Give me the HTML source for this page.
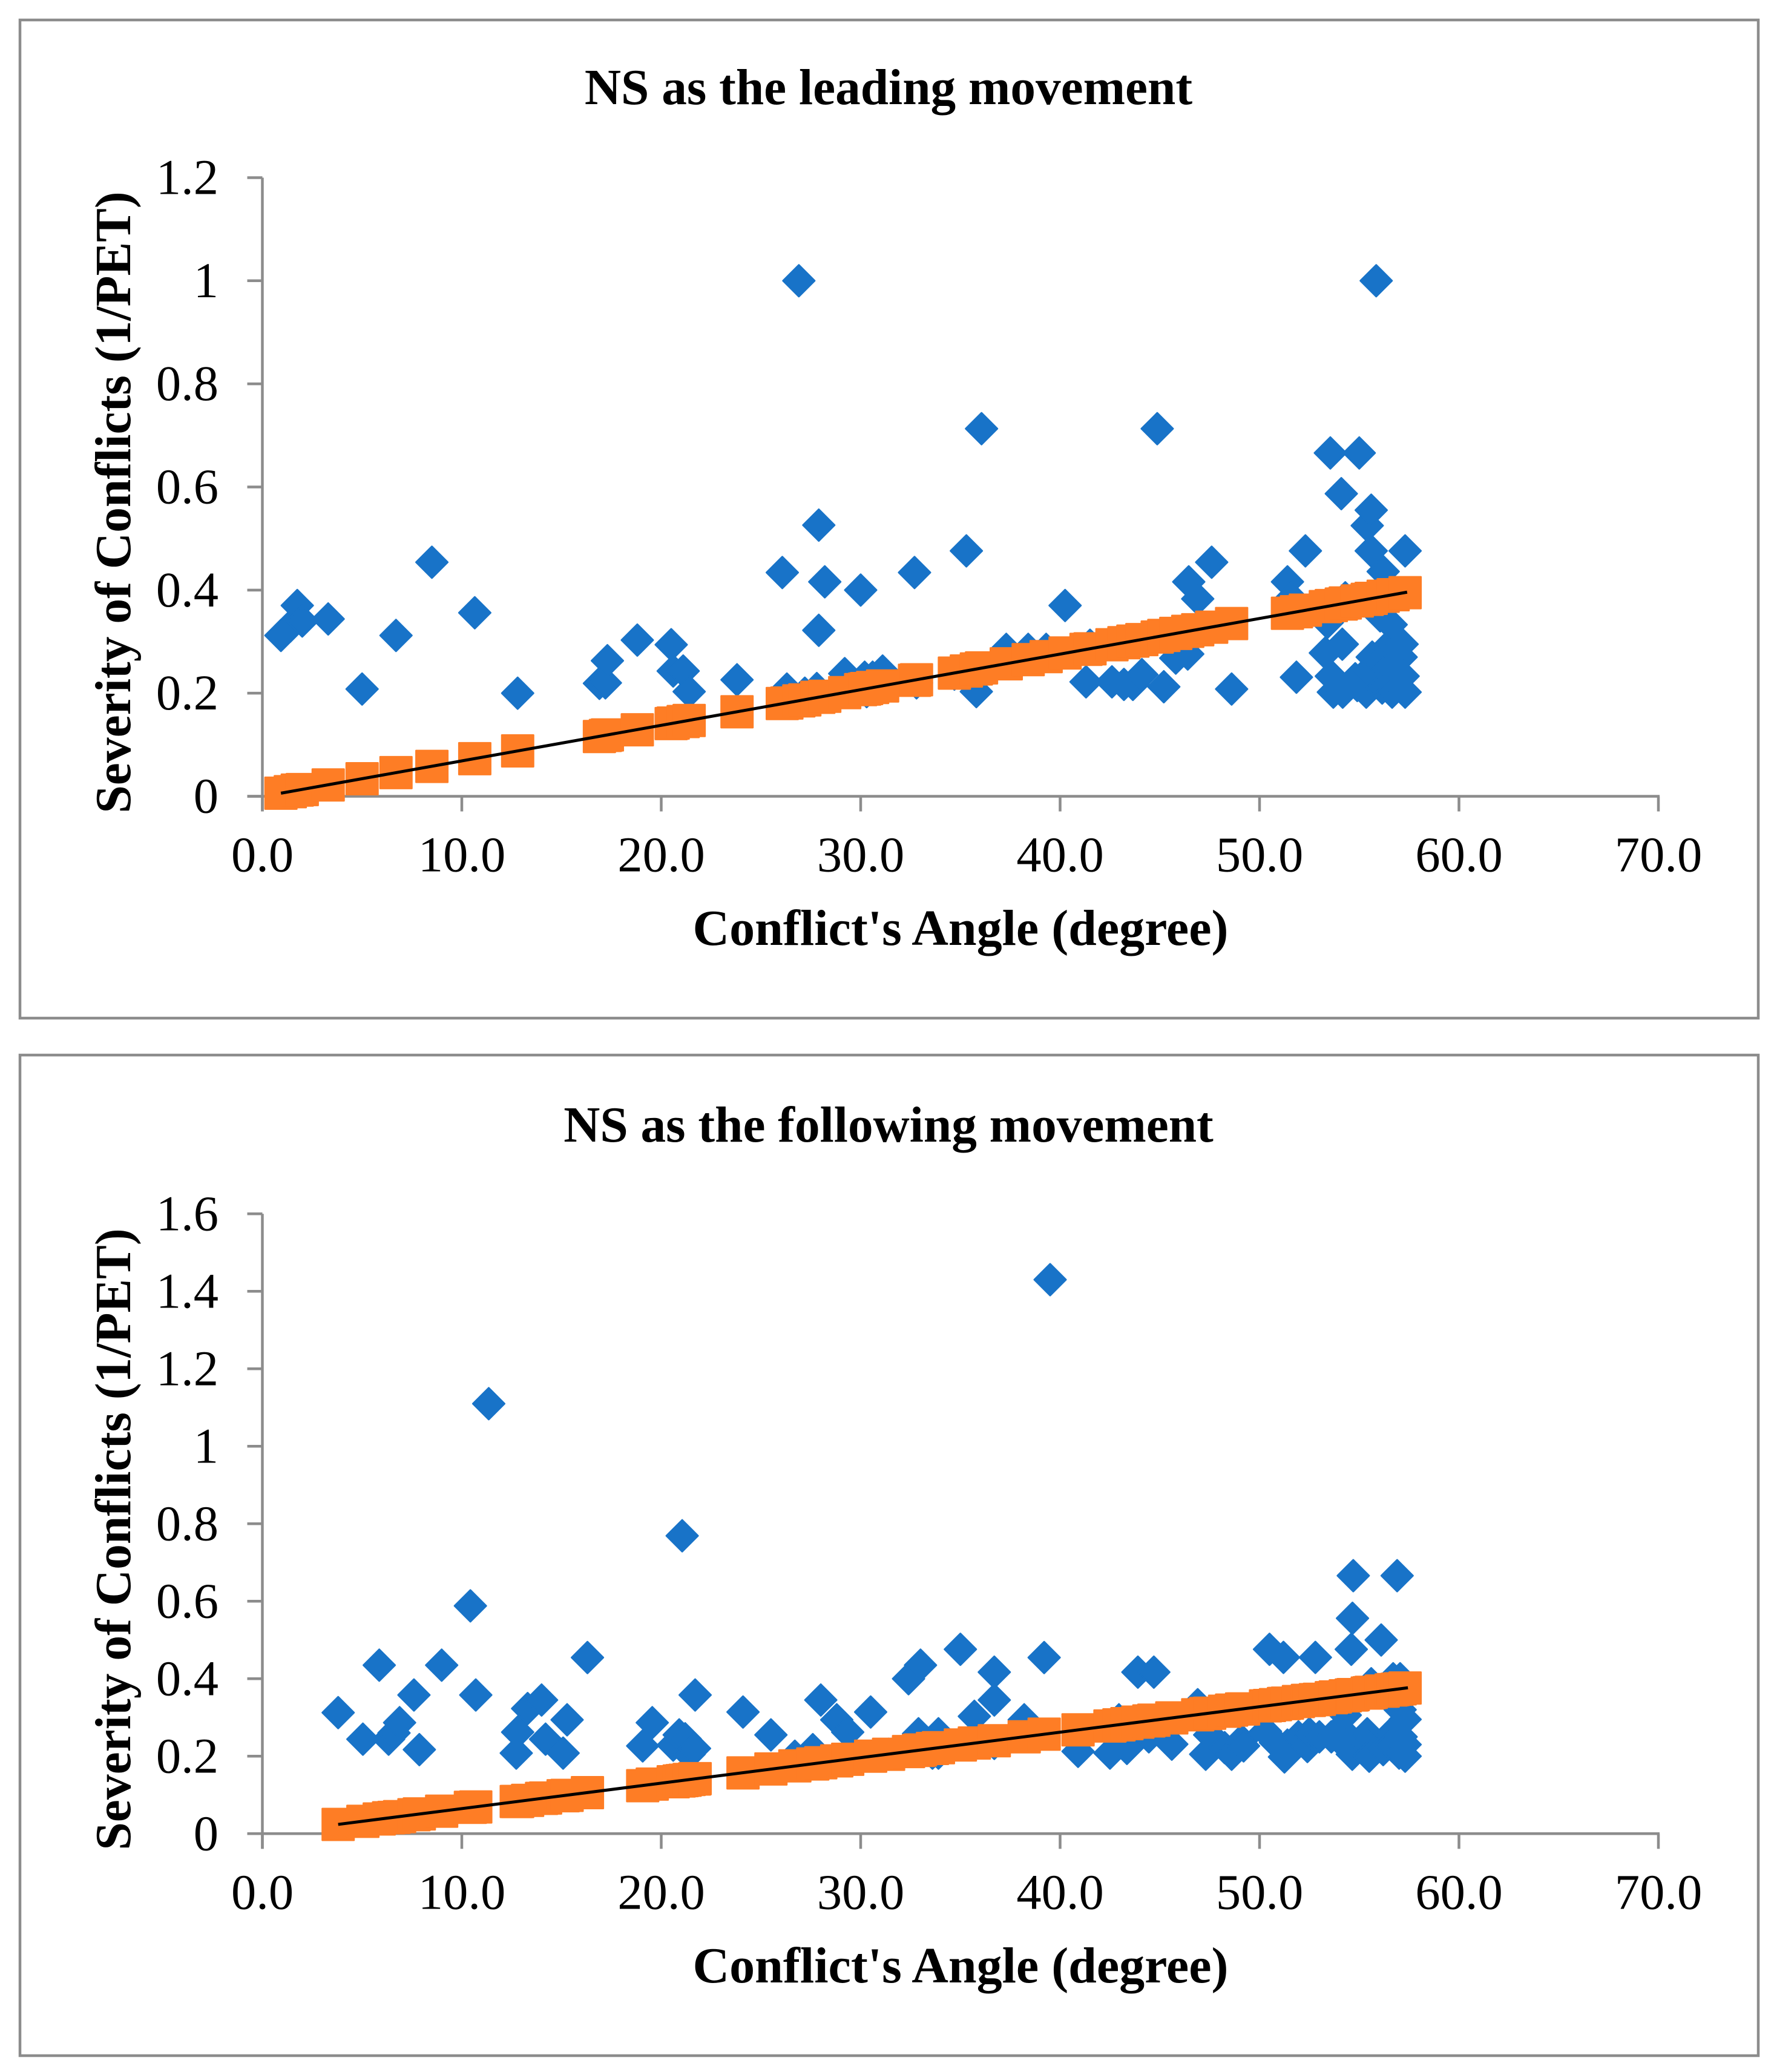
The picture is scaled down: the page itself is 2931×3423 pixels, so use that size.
<!DOCTYPE html>
<html lang="en">
<head>
<meta charset="utf-8">
<title>NS conflict severity charts</title>
<style>
html,body{margin:0;padding:0;background:#fff;}
svg{display:block;}
text{font-family:"Liberation Serif",serif;fill:#000;}
.tick{font-size:82.5px;}
.bold{font-size:84px;font-weight:bold;}
.title{font-size:83.3px;font-weight:bold;}
.ytitle{font-size:83.5px;font-weight:bold;}
</style>
</head>
<body>
<svg id="figure" xmlns="http://www.w3.org/2000/svg" width="2931" height="3423" viewBox="0 0 2931 3423">
  <g id="lead-panel">
    <rect x="33" y="33" width="2872" height="1649" fill="#fff" stroke="#8c8c8c" stroke-width="4.5"/>
    <text class="title" x="1468" y="172" text-anchor="middle">NS as the leading movement</text>
    <text class="bold" x="1587" y="1561" text-anchor="middle">Conflict's Angle (degree)</text>
    <text class="ytitle" transform="translate(215 830) rotate(-90)" text-anchor="middle">Severity of Conflicts (1/PET)</text>
  </g>
  <g id="follow-panel">
    <rect x="33" y="1743" width="2872" height="1653" fill="#fff" stroke="#8c8c8c" stroke-width="4.5"/>
    <text class="title" x="1468" y="1886" text-anchor="middle">NS as the following movement</text>
    <text class="bold" x="1587" y="3275" text-anchor="middle">Conflict's Angle (degree)</text>
    <text class="ytitle" transform="translate(215 2543) rotate(-90)" text-anchor="middle">Severity of Conflicts (1/PET)</text>
  </g>
</svg>
<script>
var xTickLabels = ["0.0","10.0","20.0","30.0","40.0","50.0","60.0","70.0"];
var leadYTickLabels = ["0","0.2","0.4","0.6","0.8","1","1.2"];
var followYTickLabels = ["0","0.2","0.4","0.6","0.8","1","1.2","1.4","1.6"];

var leadAngles = [0.93,1.4,1.75,2.0,3.3,5.0,6.7,8.5,10.65,12.8,16.9,17.2,17.3,18.8,20.5,20.6,21.1,21.4,23.8,26.07,26.3,26.9,27.2,27.8,27.9,27.9,28.2,29.2,30.0,30.2,30.3,30.6,31.1,32.7,32.8,34.7,35.3,35.8,36.06,37.3,38.4,39.3,40.25,41.3,41.5,42.6,43.2,43.65,44.1,44.87,45.2,45.8,46.4,46.45,46.9,47.6,48.6,51.4,51.6,51.85,52.3,53.3,53.55,53.6,53.7,53.4,54.1,54.17,54.15,54.3,54.8,54.9,55.0,55.35,55.4,55.5,55.6,55.6,55.65,55.85,56.0,56.15,56.2,56.05,56.5,56.55,56.6,56.65,57.1,57.15,57.2,57.3,57.3];
var leadSeverity = [0.312,0.33,0.37,0.34,0.344,0.208,0.312,0.454,0.356,0.2,0.219,0.22,0.263,0.303,0.294,0.243,0.243,0.203,0.226,0.434,0.208,1.0,0.2,0.209,0.526,0.322,0.416,0.238,0.4,0.231,0.203,0.231,0.243,0.434,0.22,0.237,0.476,0.203,0.713,0.285,0.285,0.285,0.37,0.222,0.293,0.222,0.217,0.217,0.236,0.713,0.2125,0.268,0.276,0.416,0.383,0.454,0.208,0.416,0.385,0.231,0.476,0.278,0.666,0.233,0.202,0.337,0.587,0.202,0.295,0.385,0.228,0.215,0.666,0.202,0.525,0.245,0.555,0.476,0.27,1.0,0.265,0.21,0.436,0.35,0.25,0.295,0.333,0.202,0.27,0.295,0.233,0.202,0.476];
var leadFitAngles = [0.93,1.4,1.75,2.0,3.3,5.0,6.7,8.5,10.65,12.8,16.9,17.2,17.3,18.8,20.5,20.6,21.1,21.4,23.8,26.07,26.3,26.9,27.2,27.8,27.9,28.2,29.2,30.0,30.2,30.3,30.6,31.1,32.7,32.8,34.7,35.3,35.8,36.06,37.3,38.4,39.3,40.25,41.3,41.5,42.6,43.2,43.65,44.1,44.87,45.2,45.8,46.4,46.9,47.6,48.6,51.4,51.85,52.3,53.3,53.6,54.1,54.3,54.9,55.4,55.6,56.2,56.7,57.3];
var leadFitSeverity = [0.006,0.009,0.012,0.013,0.022,0.034,0.046,0.058,0.073,0.088,0.116,0.118,0.119,0.129,0.141,0.142,0.145,0.147,0.164,0.180,0.181,0.185,0.187,0.192,0.192,0.194,0.201,0.207,0.208,0.209,0.211,0.214,0.225,0.226,0.239,0.243,0.247,0.249,0.257,0.265,0.271,0.278,0.285,0.286,0.294,0.298,0.301,0.304,0.309,0.312,0.316,0.320,0.323,0.328,0.335,0.355,0.358,0.361,0.368,0.370,0.373,0.375,0.379,0.382,0.384,0.388,0.391,0.395];
var leadTrendAngles = [0.93,57.4];
var leadTrendSeverity = [0.006,0.396];

var followAngles = [3.8,5.04,5.86,6.33,6.6,6.88,7.6,7.87,8.99,10.43,10.7,11.35,12.73,12.8,13.3,14.0,14.2,15.08,15.28,16.3,19.07,19.55,20.6,20.9,21.05,21.2,21.4,21.67,21.7,24.1,25.5,26.7,27.6,28.0,28.8,29.35,30.5,31.4,32.4,32.9,33.0,33.6,33.9,33.9,35.0,35.7,36.7,36.7,36.7,38.2,39.2,39.5,40.9,42.5,42.95,43.35,43.9,44.45,44.7,45.6,46.9,47.3,47.5,48.25,48.6,49.1,49.2,50.3,50.5,50.8,51.2,51.25,51.4,51.95,52.4,52.5,52.8,53.0,53.6,53.8,54.3,54.3,54.3,54.6,54.65,54.66,54.7,55.4,55.4,55.5,55.6,56.1,56.2,56.6,56.6,56.7,56.9,57.0,57.05,57.05,57.1,57.3,57.3,57.3];
var followSeverity = [0.3125,0.244,0.435,0.244,0.26,0.2866,0.358,0.217,0.435,0.588,0.358,1.11,0.208,0.262,0.323,0.345,0.244,0.208,0.294,0.4547,0.2266,0.2866,0.2286,0.255,0.769,0.245,0.205,0.22,0.358,0.314,0.255,0.2,0.217,0.345,0.294,0.262,0.314,0.205,0.4,0.258,0.435,0.208,0.258,0.208,0.476,0.303,0.417,0.345,0.233,0.294,0.4547,1.43,0.2125,0.208,0.294,0.22,0.417,0.25,0.417,0.231,0.333,0.205,0.255,0.222,0.205,0.24,0.2266,0.264,0.476,0.235,0.455,0.198,0.2286,0.25,0.225,0.258,0.455,0.25,0.25,0.258,0.306,0.258,0.2286,0.476,0.205,0.556,0.666,0.258,0.2286,0.2,0.387,0.5,0.217,0.258,0.2286,0.4,0.666,0.208,0.32,0.4,0.25,0.2,0.23,0.295];
var followFitAngles = [3.8,5.04,5.86,6.33,6.6,6.88,7.6,7.87,8.99,10.43,10.7,12.73,12.8,13.3,14.0,14.2,15.08,15.28,16.3,19.07,19.55,20.6,20.9,21.05,21.2,21.4,21.67,21.7,24.1,25.5,26.7,27.6,28.0,28.8,29.35,30.5,31.4,32.4,32.9,33.0,33.6,33.9,35.0,35.7,36.7,38.2,39.2,40.9,42.5,42.95,43.35,43.9,44.45,44.7,45.6,46.9,47.3,47.5,48.25,48.6,49.1,49.2,50.3,50.5,50.8,51.2,51.25,51.4,51.95,52.4,52.5,52.8,53.0,53.6,53.8,54.3,54.6,54.65,54.7,55.4,55.5,55.6,56.1,56.2,56.6,56.7,56.9,57.05,57.3];
var followFitSeverity = [0.024,0.032,0.038,0.041,0.042,0.044,0.049,0.051,0.058,0.068,0.069,0.083,0.083,0.086,0.091,0.092,0.098,0.099,0.106,0.124,0.128,0.134,0.136,0.137,0.138,0.140,0.141,0.142,0.157,0.167,0.175,0.180,0.183,0.188,0.192,0.200,0.205,0.212,0.215,0.216,0.220,0.222,0.229,0.234,0.240,0.250,0.257,0.268,0.278,0.281,0.284,0.288,0.291,0.293,0.299,0.307,0.310,0.311,0.316,0.319,0.322,0.322,0.330,0.331,0.333,0.336,0.336,0.337,0.341,0.344,0.344,0.346,0.347,0.351,0.353,0.356,0.358,0.358,0.359,0.363,0.364,0.365,0.368,0.368,0.371,0.372,0.373,0.374,0.376];
var followTrendAngles = [3.8,57.44];
var followTrendSeverity = [0.024,0.3766];

var SVG_NS = "http://www.w3.org/2000/svg";
var AXIS_COLOR = "#8c8c8c";

function makeX() {
  return function (v) { return 433.5 + v * 32.95; };
}
function makeY(y0, perUnit) {
  return function (v) { return y0 - v * perUnit; };
}
function make(tag, attrs, parent) {
  var el = document.createElementNS(SVG_NS, tag);
  for (var k in attrs) { el.setAttribute(k, attrs[k]); }
  parent.appendChild(el);
  return el;
}
function drawPanel(panel, prefix, y0, perUnit, yStep, yLabels, blueX, blueY, fitX, fitY, trendX, trendY) {
  var x = makeX();
  var y = makeY(y0, perUnit);
  var i, el;
  var axes = make("g", {}, panel);
  
  
  var yTop = y((yLabels.length - 1) * yStep);
  var xEnd = x((xTickLabels.length - 1) * 10);
  el = make("line", {x1: x(0), x2: x(0), y1: yTop, y2: y0 + 25, stroke: AXIS_COLOR, "stroke-width": 4.5}, axes);
  
  
  el = make("line", {x1: x(0) - 25, x2: xEnd + 2, y1: y0, y2: y0, stroke: AXIS_COLOR, "stroke-width": 4.5}, axes);
  
  
  for (i = 0; i < yLabels.length; i++) {
    var ty = y(i * yStep);
    el = make("line", {x1: x(0) - 25, x2: x(0), y1: ty, y2: ty, stroke: AXIS_COLOR, "stroke-width": 4.5}, axes);
    
    
    el = make("text", {x: 361, y: ty + 27, "text-anchor": "end", "class": "tick"}, axes);
    
    
    el.textContent = yLabels[i];
  }
  for (i = 0; i < xTickLabels.length; i++) {
    var tx = x(i * 10);
    el = make("line", {x1: tx, x2: tx, y1: y0, y2: y0 + 25, stroke: AXIS_COLOR, "stroke-width": 4.5}, axes);
    
    
    el = make("text", {x: tx, y: y0 + 124, "text-anchor": "middle", "class": "tick"}, axes);
    
    
    el.textContent = xTickLabels[i];
  }
  var blue = make("g", {fill: "#1873c8", stroke: "#1873c8", "stroke-width": 3, "stroke-linejoin": "round"}, panel);
  
  
  for (i = 0; i < blueX.length; i++) {
    var cx = x(blueX[i]), cy = y(blueY[i]), h = 26;
    el = make("polygon", {points: cx + "," + (cy - h) + " " + (cx + h) + "," + cy + " " + cx + "," + (cy + h) + " " + (cx - h) + "," + cy}, blue);
    
    
  }
  var orange = make("g", {fill: "#fe7d25"}, panel);
  
  
  for (i = 0; i < fitX.length; i++) {
    el = make("rect", {x: x(fitX[i]) - 27.5, y: y(fitY[i]) - 27.5, width: 55, height: 55, rx: 1.5}, orange);
    
    
  }
  el = make("line", {x1: x(trendX[0]), y1: y(trendY[0]), x2: x(trendX[1]), y2: y(trendY[1]), stroke: "#000", "stroke-width": 5}, panel);
  
  
}
drawPanel(document.getElementById("lead-panel"), "leading", 1315.5, 851.7, 0.2, leadYTickLabels, leadAngles, leadSeverity, leadFitAngles, leadFitSeverity, leadTrendAngles, leadTrendSeverity);
drawPanel(document.getElementById("follow-panel"), "following", 3029.3, 640, 0.2, followYTickLabels, followAngles, followSeverity, followFitAngles, followFitSeverity, followTrendAngles, followTrendSeverity);
</script>
</body>
</html>
